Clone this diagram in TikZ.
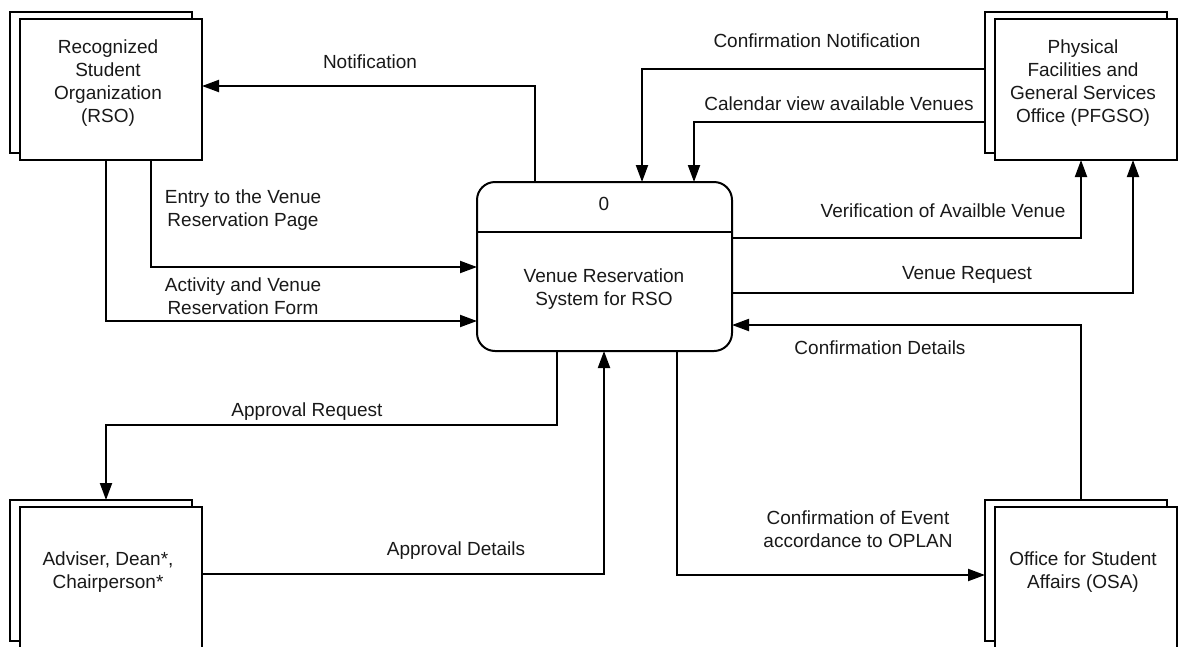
\documentclass[tikz,border=0pt]{standalone}
\usepackage{fontspec}
\setmainfont{Liberation Sans}
\usetikzlibrary{arrows.meta}

\begin{document}
\begin{tikzpicture}[x=1pt,y=-1pt,
  txt/.style={font=\fontsize{19}{23}\selectfont, text=black!90, align=center, inner sep=0pt},
  ent/.style={draw=black, line width=2pt, fill=white, rectangle, inner sep=0pt, outer sep=0pt,
              minimum width=182pt, minimum height=141pt},
  procbox/.style={draw=black, line width=2pt, fill=white, rounded corners=18pt, inner sep=0pt, outer sep=0pt,
              minimum width=255pt, minimum height=169pt},
  flow/.style={draw=black, line width=2pt, -{Triangle[length=17pt,width=12pt]}}
]
\useasboundingbox (0,0) rectangle (1183,646);
\clip (0,0) rectangle (1183,646);

% external entities (stacked boxes)
\node[ent] (rsoB) at (101,82) {};
\node[ent] (rso) at (111,89.5) {};
\node[ent] (pfB) at (1076,82) {};
\node[ent] (pf) at (1086,89.5) {};
\node[ent] (advB) at (101,570.5) {};
\node[ent] (adv) at (111,577.5) {};
\node[ent] (osaB) at (1076,570.5) {};
\node[ent] (osa) at (1086,577.5) {};

\node[txt] (rsoT) at (108,83.5) {Recognized\\Student\\Organization\\(RSO)};
\node[txt] (pfT) at (1083,83) {Physical\\Facilities and\\General Services\\Office (PFGSO)};
\node[txt] (advT) at (108,572.5) {Adviser, Dean*,\\Chairperson*};
\node[txt] (osaT) at (1083,572) {Office for Student\\Affairs (OSA)};

% process
\node[procbox] (proc) at (604.5,266.5) {};
\coordinate (div) at (0,232);
\draw[line width=2pt] (proc.west |- div) -- (proc.east |- div);
\node[txt] (procN) at (604,204) {0};
\node[txt] (procT) at (604,289.5) {Venue Reservation\\System for RSO};

% connector bend points
\coordinate (nA) at (535,86);
\coordinate (eA) at (151,267);
\coordinate (aA) at (106,321);
\coordinate (cnA) at (642,69);
\coordinate (calA) at (694,122);
\coordinate (vA) at (1081,238);
\coordinate (vrA) at (1133,293);
\coordinate (cdA) at (1081,325);
\coordinate (arA) at (557,425);
\coordinate (arB) at (106,425);
\coordinate (adA) at (604,574);
\coordinate (ceA) at (677,575);

% data flows
\draw[flow] (proc.north -| nA) |- (rso.east |- nA);
\draw[flow] (rso.south -| eA) |- (proc.west |- eA);
\draw[flow] (rso.south -| aA) |- (proc.west |- aA);
\draw[flow] (pfB.west |- cnA) -| (proc.north -| cnA);
\draw[flow] (pfB.west |- calA) -| (proc.north -| calA);
\draw[flow] (proc.east |- vA) -| (pf.south -| vA);
\draw[flow] (proc.east |- vrA) -| (pf.south -| vrA);
\draw[flow] (osaB.north -| cdA) |- (proc.east |- cdA);
\draw[flow] (proc.south -| arA) |- (arB) -- (advB.north -| arB);
\draw[flow] (adv.east |- adA) -| (proc.south -| adA);
\draw[flow] (proc.south -| ceA) |- (osaB.west |- ceA);

% flow labels
\node[txt] (l1) at (370,62) {Notification};
\node[txt] (l2) at (243,210.5) {Entry to the Venue\\Reservation Page};
\node[txt] (l3) at (243,296) {Activity and Venue\\Reservation Form};
\node[txt] (l4) at (817,41) {Confirmation Notification};
\node[txt] (l5) at (839,104) {Calendar view available Venues};
\node[txt] (l6) at (943,211) {Verification of Availble Venue};
\node[txt] (l7) at (967,275) {Venue Request};
\node[txt] (l8) at (880,348) {Confirmation Details};
\node[txt] (l9) at (307,412) {Approval Request};
\node[txt] (l10) at (456,551) {Approval Details};
\node[txt] (l11) at (858,529.5) {Confirmation of Event\\accordance to OPLAN};
\end{tikzpicture}
\end{document}
